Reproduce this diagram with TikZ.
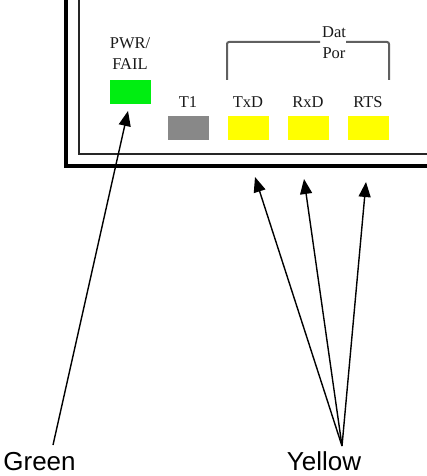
\documentclass[tikz,border=0pt]{standalone}
\usepackage{fontspec}
\setmainfont{Liberation Serif}
\newfontfamily\arialfont{Liberation Sans}
\usetikzlibrary{arrows.meta}
\definecolor{ledgreen}{HTML}{00EE11}
\definecolor{ledgray}{HTML}{888888}
\definecolor{ledyellow}{HTML}{FFFF00}
\definecolor{brk}{HTML}{606060}
\tikzset{
  led/.style={draw=none, minimum width=41pt, minimum height=24pt, inner sep=0pt},
  lbl/.style={font=\fontsize{16.5}{16.5}\selectfont, text=black!90, anchor=base, inner sep=0pt},
  callout/.style={font=\arialfont\fontsize{26}{26}\selectfont, anchor=base, inner sep=0pt},
  pointer/.style={line width=1.4pt, -{Triangle[length=15pt,width=12pt]}},
}
\begin{document}
\begin{tikzpicture}[x=1pt,y=-1pt]
\useasboundingbox (0,0) rectangle (427,476);
% frame
\draw[line width=4pt] (66,0) -- (66,166) -- (430,166);
\draw[line width=2pt, draw=black!85] (79,0) -- (79,154) -- (430,154);
% LEDs
\node[led, fill=ledgreen] (pwr) at (130.5,92) {};
\node[led, fill=ledgray] (t1) at (188,128) {};
\node[led, fill=ledyellow] (txd) at (248.5,128) {};
\node[led, fill=ledyellow] (rxd) at (308.5,128) {};
\node[led, fill=ledyellow] (rts) at (368.5,128) {};
% labels
\node[lbl] (pwrl1) at (130,49) {PWR/};
\node[lbl] (pwrl2) at (130,70) {FAIL};
\node[lbl] (t1l) at (188,107) {T1};
\node[lbl] (txdl) at (248,107) {TxD};
\node[lbl] (rxdl) at (308,107) {RxD};
\node[lbl] (rtsl) at (368,107) {RTS};
\node[lbl] (dat) at (334,38) {Dat};
\node[lbl] (por) at (334,59) {Por};
% bracket
\draw[brk, line width=2pt, rounded corners=2pt] (227,80) -- (227,42) -- (320,42);
\draw[brk, line width=2pt, rounded corners=2pt] (346,42) -- (389,42) -- (389,80);
% callouts
\node[callout] (green) at (39.5,470) {Green};
\node[callout] (yellow) at (324,470) {Yellow};
\coordinate (gstart) at (53,445);
\coordinate (ystart) at (342,446);
\coordinate (gtip) at (128,111);
\coordinate (ytip1) at (255,177);
\coordinate (ytip2) at (304,179);
\coordinate (ytip3) at (366,182);
\draw[pointer] (gstart) -- (gtip);
\draw[pointer] (ystart) -- (ytip1);
\draw[pointer] (ystart) -- (ytip2);
\draw[pointer] (ystart) -- (ytip3);
\end{tikzpicture}
\end{document}
